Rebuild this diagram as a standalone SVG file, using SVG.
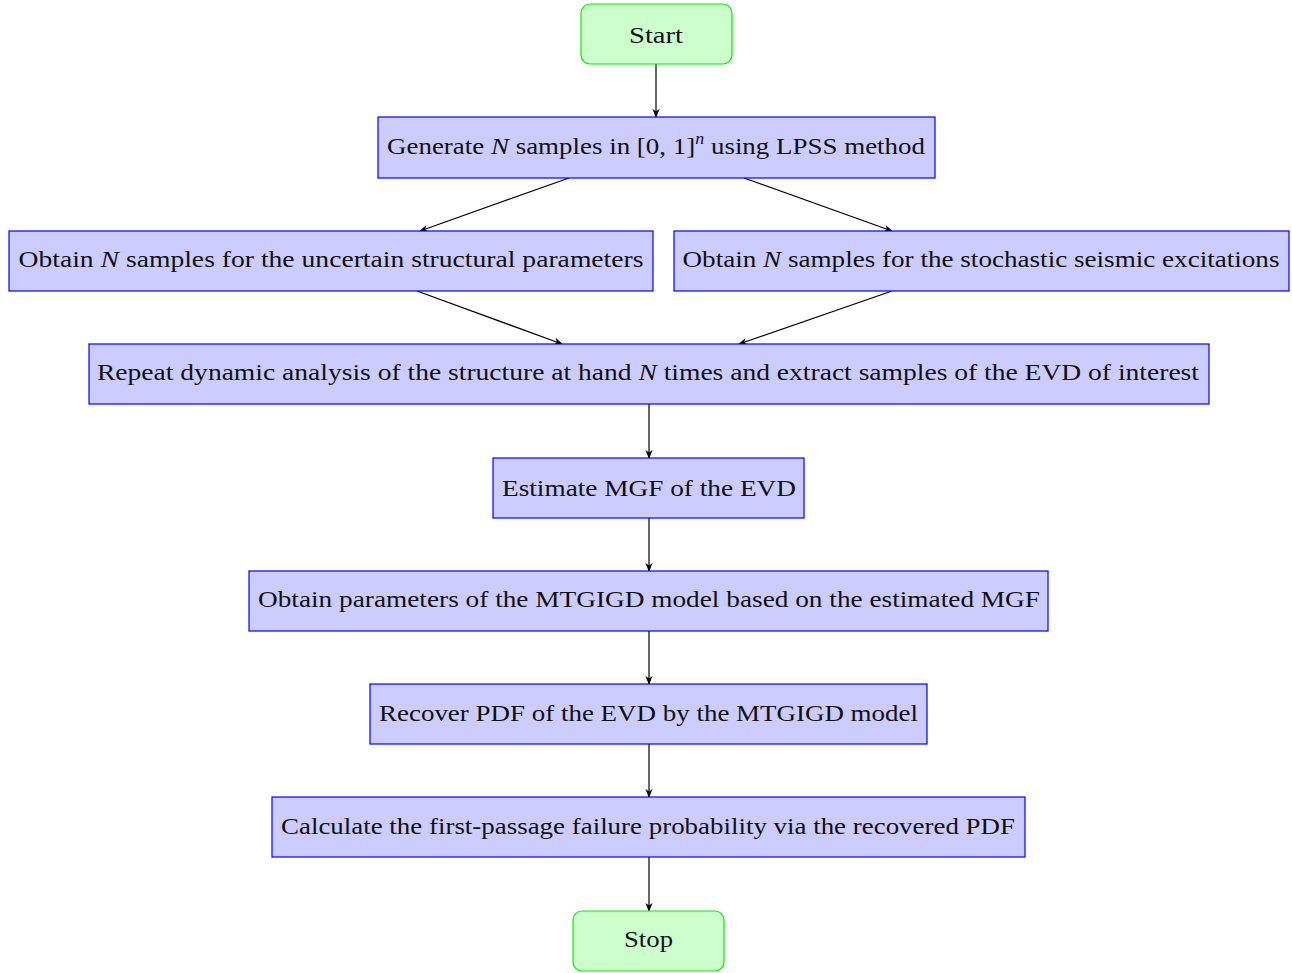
<svg xmlns="http://www.w3.org/2000/svg" width="1292" height="973" viewBox="0 0 1292 973">
<defs>
<style>
.box{fill:#ccccff;stroke:#0000ff;stroke-width:1.2}
.term{fill:#ccffcc;stroke:#00ee00;stroke-width:1.2}
text{font-family:"Liberation Serif","DejaVu Serif",serif;font-size:24px;fill:#111;text-anchor:middle}
.m{font-style:italic}
.c{stroke:#000;stroke-width:1.2;fill:none;marker-end:url(#ah)}
</style>
<marker id="ah" viewBox="0 0 10 10" refX="9" refY="5" markerWidth="9" markerHeight="9" orient="auto" markerUnits="userSpaceOnUse">
<path d="M0,1 L10,5 L0,9 L3,5 Z" fill="#000"/>
</marker>
</defs>
<g id="connectors">
<line class="c" x1="656" y1="64" x2="656" y2="117"/>
<line class="c" x1="569" y1="178" x2="420" y2="231"/>
<line class="c" x1="744" y1="178" x2="892" y2="231"/>
<line class="c" x1="417" y1="291" x2="562" y2="344"/>
<line class="c" x1="892" y1="291" x2="739" y2="344"/>
<line class="c" x1="649" y1="404" x2="649" y2="458"/>
<line class="c" x1="649" y1="518" x2="649" y2="571"/>
<line class="c" x1="649" y1="631" x2="649" y2="684"/>
<line class="c" x1="649" y1="744" x2="649" y2="797"/>
<line class="c" x1="649" y1="857" x2="649" y2="911"/>
</g>
<g id="start">
<rect class="term" x="581" y="4" width="151" height="60" rx="9"/>
<text x="656" y="43" textLength="54" lengthAdjust="spacingAndGlyphs">Start</text>
</g>
<g id="generate">
<rect class="box" x="378" y="117" width="557" height="61"/>
<text x="656" y="154" textLength="538" lengthAdjust="spacingAndGlyphs">Generate <tspan class="m">N</tspan> samples in [0, 1]<tspan dy="-10" font-size="16" class="m">n</tspan><tspan dy="10"> using LPSS method</tspan></text>
</g>
<g id="obtain-structural">
<rect class="box" x="9" y="231" width="644" height="60"/>
<text x="331" y="267" textLength="625" lengthAdjust="spacingAndGlyphs">Obtain <tspan class="m">N</tspan> samples for the uncertain structural parameters</text>
</g>
<g id="obtain-seismic">
<rect class="box" x="674" y="231" width="615" height="60"/>
<text x="981" y="267" textLength="597" lengthAdjust="spacingAndGlyphs">Obtain <tspan class="m">N</tspan> samples for the stochastic seismic excitations</text>
</g>
<g id="repeat">
<rect class="box" x="89" y="344" width="1120" height="60"/>
<text x="648" y="380" textLength="1102" lengthAdjust="spacingAndGlyphs">Repeat dynamic analysis of the structure at hand <tspan class="m">N</tspan> times and extract samples of the EVD of interest</text>
</g>
<g id="estimate">
<rect class="box" x="493" y="458" width="311" height="60"/>
<text x="649" y="496" textLength="294" lengthAdjust="spacingAndGlyphs">Estimate MGF of the EVD</text>
</g>
<g id="parameters">
<rect class="box" x="249" y="571" width="799" height="60"/>
<text x="649" y="607" textLength="782" lengthAdjust="spacingAndGlyphs">Obtain parameters of the MTGIGD model based on the estimated MGF</text>
</g>
<g id="recover">
<rect class="box" x="370" y="684" width="557" height="60"/>
<text x="648.5" y="721" textLength="539" lengthAdjust="spacingAndGlyphs">Recover PDF of the EVD by the MTGIGD model</text>
</g>
<g id="calculate">
<rect class="box" x="272" y="797" width="753" height="60"/>
<text x="648" y="834" textLength="734" lengthAdjust="spacingAndGlyphs">Calculate the first-passage failure probability via the recovered PDF</text>
</g>
<g id="stop">
<rect class="term" x="573" y="911" width="151" height="60" rx="9"/>
<text x="648.5" y="947" textLength="49" lengthAdjust="spacingAndGlyphs">Stop</text>
</g>
</svg>
